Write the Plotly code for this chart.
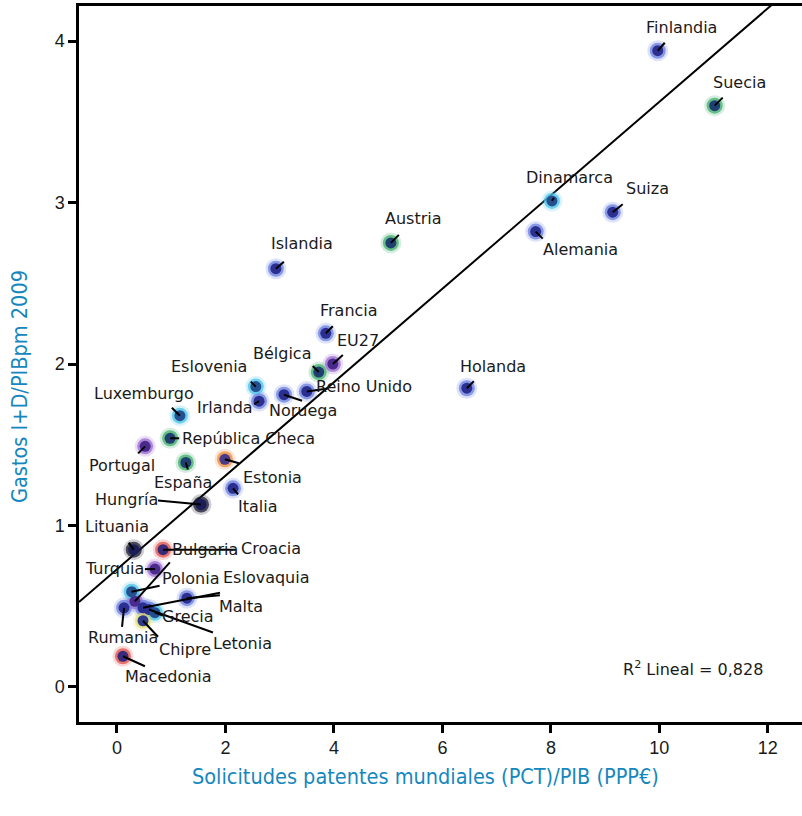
import plotly.graph_objects as go

# ---- data -----------------------------------------------------------------
countries = [
    "Finlandia", "Suecia", "Dinamarca", "Suiza", "Alemania", "Austria",
    "Islandia", "Francia", "EU27", "Bélgica", "Reino Unido", "Noruega",
    "Eslovenia", "Irlanda", "Holanda", "Luxemburgo", "República Checa",
    "Portugal", "España", "Estonia", "Italia", "Hungría", "Lituania",
    "Croacia", "Turquia", "Bulgaria", "Polonia", "Eslovaquia", "Letonia",
    "Grecia", "Malta", "Rumania", "Chipre", "Macedonia",
]
# PCT patent applications per GDP (PPP €)
patentes = [
    9.97, 11.02, 8.02, 9.14, 7.72, 5.05,
    2.93, 3.85, 3.98, 3.72, 3.50, 3.08,
    2.56, 2.62, 6.45, 1.16, 0.98,
    0.52, 1.27, 1.99, 2.14, 1.55, 0.31,
    0.85, 0.70, 0.33, 0.27, 0.48, 0.59,
    0.70, 1.29, 0.13, 0.48, 0.11,
]
# R&D expenditure / GDP 2009
gasto_id = [
    3.94, 3.60, 3.01, 2.94, 2.82, 2.75,
    2.59, 2.19, 2.00, 1.95, 1.83, 1.81,
    1.86, 1.77, 1.85, 1.68, 1.54,
    1.49, 1.39, 1.41, 1.23, 1.13, 0.85,
    0.85, 0.73, 0.53, 0.59, 0.49, 0.48,
    0.46, 0.55, 0.49, 0.41, 0.19,
]
groups = [
    "blue", "green", "cyan", "blue", "blue", "green",
    "blue", "blue", "purple", "green", "blue", "blue",
    "cyan", "blue", "blue", "cyan", "green",
    "purple", "green", "orange", "blue", "dark", "dark",
    "red", "purple", "purple", "cyan", "blue", "blue",
    "cyan", "blue", "blue", "yellow", "red",
]

# linear fit shown in the chart
fit_intercept = 0.729
fit_slope = 0.2895
r2_text = "R<sup>2</sup> Lineal = 0,828"

x_ticks = [0, 2, 4, 6, 8, 10, 12]
y_ticks = [0, 1, 2, 3, 4]

# ---- styling --------------------------------------------------------------
palette = {
    "blue":   ("#2b3090", "#6a7fe0"),
    "green":  ("#1f3f70", "#3fae6a"),
    "cyan":   ("#24508f", "#4cc3ea"),
    "red":    ("#3a2a7a", "#e0504a"),
    "orange": ("#4a3a8a", "#f08a3a"),
    "purple": ("#4a2a8c", "#9a6ad0"),
    "yellow": ("#2e3a8a", "#e0df70"),
    "dark":   ("#1c1c58", "#1a1a30"),
}

# label placement: (text dx, text dy, leader dx, leader dy) in pixels, y down
label_pos = {
    "Finlandia": (24, -23, 7, -8),
    "Suecia": (25, -23, 8, -8),
    "Dinamarca": (18, -23, 2, -3),
    "Suiza": (35, -24, 10, -8),
    "Alemania": (45, 18, 7, 7),
    "Austria": (23, -24, 8, -8),
    "Islandia": (26, -25, 8, -7),
    "Francia": (23, -23, 7, -7),
    "EU27": (25, -24, 10, -9),
    "Bélgica": (-37, -19, -6, -6),
    "Reino Unido": (57, -5, 21, -3),
    "Noruega": (19, 16, 18, 6),
    "Eslovenia": (-47, -20, -5, -5),
    "Irlanda": (-34, 6, -5, 3),
    "Holanda": (26, -22, 7, -7),
    "Luxemburgo": (-36, -22, -8, -8),
    "República Checa": (78, 0, 9, 0),
    "Portugal": (-23, 19, -7, 7),
    "España": (-3, 20, 2, 7),
    "Estonia": (48, 18, 14, 4),
    "Italia": (25, 18, 5, 6),
    "Hungría": (-75, -5, -43, -4),
    "Lituania": (-17, -23, -5, -7),
    "Croacia": (108, -1, 73, 0),
    "Turquia": (-40, -1, -10, 0),
    "Bulgaria": (70, -52, 35, -39),
    "Polonia": (59, -13, 28, -6),
    "Eslovaquia": (123, -30, 77, -15),
    "Letonia": (94, 34, 64, 23),
    "Grecia": (33, 4, 8, 3),
    "Malta": (54, 8, 33, -3),
    "Rumania": (-1, 30, -2, 19),
    "Chipre": (42, 29, 15, 16),
    "Macedonia": (46, 20, 22, 10),
}

core_colors = [palette[g][0] for g in groups]
halo_colors = [palette[g][1] for g in groups]

W, H = 802, 816
ML, MR, MT, MB = 79, 0, 6, 94
pw, ph = W - ML - MR, H - MT - MB


def px_to_paper(px, py):
    return (px - ML) / pw, (H - MB - py) / ph


fig = go.Figure()

# regression line across the full x range (clipped by the plot area)
x_range = [-0.70, 12.63]
y_range = [-0.217, 4.217]
fig.add_trace(go.Scatter(
    x=x_range,
    y=[fit_intercept + fit_slope * v for v in x_range],
    mode="lines", line=dict(color="black", width=2),
    hoverinfo="skip", showlegend=False,
))

# soft halo around each point
fig.add_trace(go.Scatter(
    x=patentes, y=gasto_id, mode="markers",
    marker=dict(size=21, color=halo_colors, opacity=0.22, line=dict(width=0)),
    hoverinfo="skip", showlegend=False,
))
fig.add_trace(go.Scatter(
    x=patentes, y=gasto_id, mode="markers",
    marker=dict(size=16, color=halo_colors, opacity=0.75, line=dict(width=0)),
    hoverinfo="skip", showlegend=False,
))
fig.add_trace(go.Scatter(
    x=patentes, y=gasto_id, mode="markers", text=countries,
    marker=dict(size=11, color=core_colors, line=dict(width=0)),
    hovertemplate="%{text}<br>%{x}, %{y}<extra></extra>",
    showlegend=False,
))

label_font = dict(family="DejaVu Sans", size=16, color="#1a1a1a")

shapes = []
annotations = []
for name, xv, yv in zip(countries, patentes, gasto_id):
    tdx, tdy, ldx, ldy = label_pos[name]
    shapes.append(dict(
        type="line", xref="x", yref="y",
        xsizemode="pixel", ysizemode="pixel",
        xanchor=xv, yanchor=yv,
        x0=0, y0=0, x1=ldx, y1=-ldy,
        line=dict(color="black", width=2), layer="above",
    ))
    annotations.append(dict(
        x=xv, y=yv, xref="x", yref="y", text=name, showarrow=False,
        xshift=tdx, yshift=-tdy, xanchor="center", yanchor="middle",
        font=label_font,
    ))

r2x, r2y = px_to_paper(693, 668)
annotations.append(dict(
    x=r2x, y=r2y, xref="paper", yref="paper", text=r2_text,
    showarrow=False, xanchor="center", yanchor="middle", font=label_font,
))

title_font = dict(family="Liberation Sans Narrow, DejaVu Sans Condensed, Arial Narrow, sans-serif",
                  size=21.5, color="#1687be")

xt, yt = px_to_paper(425, 776)
annotations.append(dict(
    x=xt, y=yt, xref="paper", yref="paper",
    text="Solicitudes patentes mundiales (PCT)/PIB (PPP€)",
    showarrow=False, xanchor="center", yanchor="middle", font=title_font,
))
xt, yt = px_to_paper(19, 387)
annotations.append(dict(
    x=xt, y=yt, xref="paper", yref="paper",
    text="Gastos I+D/PIBpm 2009", textangle=-90,
    showarrow=False, xanchor="center", yanchor="middle", font=title_font,
))

tick_font = dict(family="Liberation Sans, Arial", size=18, color="#1a1a1a")

fig.update_layout(
    width=W, height=H,
    margin=dict(l=ML, r=MR, t=MT, b=MB),
    paper_bgcolor="white", plot_bgcolor="white",
    shapes=shapes, annotations=annotations,
    xaxis=dict(
        range=x_range, tickvals=x_ticks, showgrid=False, zeroline=False,
        showline=True, linecolor="black", linewidth=2.5, mirror=True,
        ticks="outside", ticklen=8, tickwidth=2.5, tickcolor="black",
        tickfont=tick_font,
    ),
    yaxis=dict(
        range=y_range, tickvals=y_ticks, showgrid=False, zeroline=False,
        showline=True, linecolor="black", linewidth=2.5,
        ticks="outside", ticklen=8, tickwidth=2.5, tickcolor="black",
        tickfont=tick_font,
    ),
)

fig.write_html("out.html")
